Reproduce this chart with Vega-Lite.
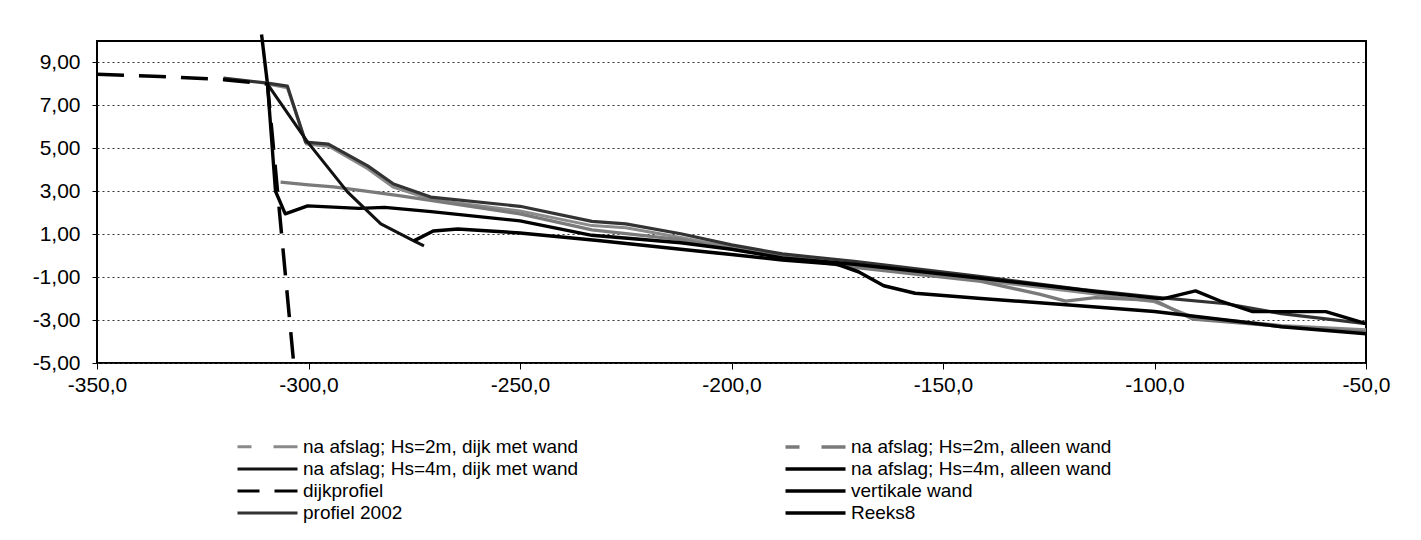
{
  "$schema": "https://vega.github.io/schema/vega-lite/v6.json",
  "width": 1269,
  "height": 322,
  "autosize": {"type": "none"},
  "padding": {"left": 97, "top": 41, "right": 55, "bottom": 177},
  "background": "white",
  "config": {
    "font": "Liberation Sans",
    "view": {"stroke": "black", "strokeWidth": 2}
  },
  "data": {
    "values": [
      {"s": "dijkprofiel", "x": -350, "y": 8.45},
      {"s": "dijkprofiel", "x": -335, "y": 8.35},
      {"s": "dijkprofiel", "x": -320, "y": 8.2},
      {"s": "dijkprofiel", "x": -309.7, "y": 8.0},
      {"s": "dijkprofiel", "x": -303.6, "y": -4.8},
      {"s": "vertikale wand", "x": -311.1, "y": 10.3},
      {"s": "vertikale wand", "x": -309.7, "y": 8.0},
      {"s": "na afslag; Hs=2m, dijk met wand", "x": -309.7, "y": 8.0},
      {"s": "na afslag; Hs=2m, dijk met wand", "x": -305, "y": 7.82},
      {"s": "na afslag; Hs=2m, dijk met wand", "x": -300.5, "y": 5.2},
      {"s": "na afslag; Hs=2m, dijk met wand", "x": -295, "y": 5.08},
      {"s": "na afslag; Hs=2m, dijk met wand", "x": -286, "y": 4.05},
      {"s": "na afslag; Hs=2m, dijk met wand", "x": -280, "y": 3.2},
      {"s": "na afslag; Hs=2m, dijk met wand", "x": -271, "y": 2.62},
      {"s": "na afslag; Hs=2m, dijk met wand", "x": -250, "y": 2.08},
      {"s": "na afslag; Hs=2m, dijk met wand", "x": -233, "y": 1.4},
      {"s": "na afslag; Hs=2m, dijk met wand", "x": -225, "y": 1.3},
      {"s": "na afslag; Hs=2m, dijk met wand", "x": -212, "y": 0.85},
      {"s": "na afslag; Hs=2m, dijk met wand", "x": -200, "y": 0.38},
      {"s": "na afslag; Hs=2m, dijk met wand", "x": -188, "y": 0.0},
      {"s": "na afslag; Hs=2m, dijk met wand", "x": -171, "y": -0.45},
      {"s": "na afslag; Hs=2m, dijk met wand", "x": -141, "y": -1.15},
      {"s": "na afslag; Hs=2m, dijk met wand", "x": -117, "y": -1.72},
      {"s": "na afslag; Hs=2m, dijk met wand", "x": -100, "y": -2.15},
      {"s": "na afslag; Hs=2m, dijk met wand", "x": -91, "y": -2.85},
      {"s": "na afslag; Hs=2m, dijk met wand", "x": -70, "y": -3.25},
      {"s": "na afslag; Hs=2m, dijk met wand", "x": -50, "y": -3.45},
      {"s": "na afslag; Hs=2m, alleen wand", "x": -306.6, "y": 3.43},
      {"s": "na afslag; Hs=2m, alleen wand", "x": -300, "y": 3.3},
      {"s": "na afslag; Hs=2m, alleen wand", "x": -294.1, "y": 3.2},
      {"s": "na afslag; Hs=2m, alleen wand", "x": -286, "y": 3.0},
      {"s": "na afslag; Hs=2m, alleen wand", "x": -278.2, "y": 2.78},
      {"s": "na afslag; Hs=2m, alleen wand", "x": -250, "y": 1.95},
      {"s": "na afslag; Hs=2m, alleen wand", "x": -233, "y": 1.2},
      {"s": "na afslag; Hs=2m, alleen wand", "x": -212, "y": 0.75},
      {"s": "na afslag; Hs=2m, alleen wand", "x": -200, "y": 0.3},
      {"s": "na afslag; Hs=2m, alleen wand", "x": -188, "y": -0.05},
      {"s": "na afslag; Hs=2m, alleen wand", "x": -171, "y": -0.55},
      {"s": "na afslag; Hs=2m, alleen wand", "x": -141, "y": -1.2},
      {"s": "na afslag; Hs=2m, alleen wand", "x": -127, "y": -1.8},
      {"s": "na afslag; Hs=2m, alleen wand", "x": -121, "y": -2.12},
      {"s": "na afslag; Hs=2m, alleen wand", "x": -114, "y": -1.95},
      {"s": "na afslag; Hs=2m, alleen wand", "x": -100, "y": -2.08},
      {"s": "na afslag; Hs=2m, alleen wand", "x": -91, "y": -2.95},
      {"s": "na afslag; Hs=2m, alleen wand", "x": -70, "y": -3.3},
      {"s": "na afslag; Hs=2m, alleen wand", "x": -50, "y": -3.55},
      {"s": "profiel 2002", "x": -320.1, "y": 8.27},
      {"s": "profiel 2002", "x": -309.7, "y": 8.04},
      {"s": "profiel 2002", "x": -305, "y": 7.9},
      {"s": "profiel 2002", "x": -300.7, "y": 5.29},
      {"s": "profiel 2002", "x": -295.3, "y": 5.2},
      {"s": "profiel 2002", "x": -286, "y": 4.18},
      {"s": "profiel 2002", "x": -279.9, "y": 3.34},
      {"s": "profiel 2002", "x": -271.1, "y": 2.73},
      {"s": "profiel 2002", "x": -250, "y": 2.3},
      {"s": "profiel 2002", "x": -233, "y": 1.6},
      {"s": "profiel 2002", "x": -225, "y": 1.48},
      {"s": "profiel 2002", "x": -212, "y": 1.02},
      {"s": "profiel 2002", "x": -200, "y": 0.5},
      {"s": "profiel 2002", "x": -188, "y": 0.08},
      {"s": "profiel 2002", "x": -171, "y": -0.27},
      {"s": "profiel 2002", "x": -141, "y": -0.98},
      {"s": "profiel 2002", "x": -117, "y": -1.58},
      {"s": "profiel 2002", "x": -100, "y": -1.93},
      {"s": "profiel 2002", "x": -83, "y": -2.24},
      {"s": "profiel 2002", "x": -70, "y": -2.7},
      {"s": "profiel 2002", "x": -50, "y": -3.17},
      {"s": "na afslag; Hs=4m, alleen wand", "x": -309.7, "y": 7.99},
      {"s": "na afslag; Hs=4m, alleen wand", "x": -307.8, "y": 3.0},
      {"s": "na afslag; Hs=4m, alleen wand", "x": -305.5, "y": 1.95},
      {"s": "na afslag; Hs=4m, alleen wand", "x": -300.2, "y": 2.32},
      {"s": "na afslag; Hs=4m, alleen wand", "x": -288, "y": 2.2},
      {"s": "na afslag; Hs=4m, alleen wand", "x": -282, "y": 2.25},
      {"s": "na afslag; Hs=4m, alleen wand", "x": -271, "y": 2.05},
      {"s": "na afslag; Hs=4m, alleen wand", "x": -250, "y": 1.62},
      {"s": "na afslag; Hs=4m, alleen wand", "x": -233, "y": 0.95},
      {"s": "na afslag; Hs=4m, alleen wand", "x": -212, "y": 0.6},
      {"s": "na afslag; Hs=4m, alleen wand", "x": -200, "y": 0.3},
      {"s": "na afslag; Hs=4m, alleen wand", "x": -188, "y": -0.1},
      {"s": "na afslag; Hs=4m, alleen wand", "x": -171, "y": -0.4},
      {"s": "na afslag; Hs=4m, alleen wand", "x": -141, "y": -1.05},
      {"s": "na afslag; Hs=4m, alleen wand", "x": -117, "y": -1.6},
      {"s": "na afslag; Hs=4m, alleen wand", "x": -113.9, "y": -1.68},
      {"s": "na afslag; Hs=4m, alleen wand", "x": -98.1, "y": -2.01},
      {"s": "na afslag; Hs=4m, alleen wand", "x": -90.3, "y": -1.64},
      {"s": "na afslag; Hs=4m, alleen wand", "x": -84.6, "y": -2.1},
      {"s": "na afslag; Hs=4m, alleen wand", "x": -76.8, "y": -2.61},
      {"s": "na afslag; Hs=4m, alleen wand", "x": -59.5, "y": -2.61},
      {"s": "na afslag; Hs=4m, alleen wand", "x": -50, "y": -3.17},
      {"s": "na afslag; Hs=4m, dijk met wand", "x": -309.7, "y": 7.99},
      {"s": "na afslag; Hs=4m, dijk met wand", "x": -300.2, "y": 5.29},
      {"s": "na afslag; Hs=4m, dijk met wand", "x": -290.8, "y": 2.97},
      {"s": "na afslag; Hs=4m, dijk met wand", "x": -282.9, "y": 1.48},
      {"s": "na afslag; Hs=4m, dijk met wand", "x": -275.1, "y": 0.69},
      {"s": "na afslag; Hs=4m, dijk met wand", "x": -272.7, "y": 0.46},
      {"s": "Reeks8", "x": -275.1, "y": 0.69},
      {"s": "Reeks8", "x": -270.5, "y": 1.15},
      {"s": "Reeks8", "x": -264.7, "y": 1.24},
      {"s": "Reeks8", "x": -250, "y": 1.06},
      {"s": "Reeks8", "x": -231, "y": 0.69},
      {"s": "Reeks8", "x": -212, "y": 0.3},
      {"s": "Reeks8", "x": -200, "y": 0.05},
      {"s": "Reeks8", "x": -188, "y": -0.2},
      {"s": "Reeks8", "x": -175, "y": -0.4},
      {"s": "Reeks8", "x": -170, "y": -0.75},
      {"s": "Reeks8", "x": -164, "y": -1.4},
      {"s": "Reeks8", "x": -156.6, "y": -1.75},
      {"s": "Reeks8", "x": -141, "y": -2.0},
      {"s": "Reeks8", "x": -117, "y": -2.34},
      {"s": "Reeks8", "x": -100, "y": -2.6},
      {"s": "Reeks8", "x": -70, "y": -3.31},
      {"s": "Reeks8", "x": -50, "y": -3.64}
    ]
  },
  "encoding": {
    "x": {
      "field": "x", "type": "quantitative",
      "scale": {"domain": [-350, -50], "nice": false, "zero": false},
      "axis": {
        "values": [-350, -300, -250, -200, -150, -100, -50],
        "labelExpr": "replace(replace(format(datum.value, '.1f'), '.', ','), '−', '-')",
        "title": null, "grid": false, "domain": false,
        "tickColor": "black", "tickSize": 6, "tickWidth": 1,
        "labelFlush": false, "labelOverlap": false,
        "labelFontSize": 21, "labelPadding": 5, "labelColor": "black", "labelFont": "Liberation Sans"
      }
    },
    "y": {
      "field": "y", "type": "quantitative",
      "scale": {"domain": [-5, 10], "nice": false, "zero": false},
      "axis": {
        "values": [-5, -3, -1, 1, 3, 5, 7, 9],
        "labelExpr": "replace(replace(format(datum.value, '.2f'), '.', ','), '−', '-')",
        "title": null, "grid": true, "gridColor": "#333", "gridDash": [2, 3], "gridWidth": 1,
        "domain": false, "tickColor": "black", "tickSize": 5, "tickWidth": 1,
        "labelOverlap": false,
        "labelFontSize": 21, "labelPadding": 12, "labelColor": "black", "labelFont": "Liberation Sans"
      }
    }
  },
  "layer": [
    {
      "transform": [{"filter": "datum.s !== 'dijkprofiel'"}],
      "mark": {"type": "line", "strokeCap": "butt", "strokeJoin": "round"},
      "encoding": {
        "color": {
          "field": "s", "type": "nominal",
          "scale": {
            "domain": ["na afslag; Hs=2m, dijk met wand", "na afslag; Hs=4m, dijk met wand", "dijkprofiel", "profiel 2002", "na afslag; Hs=2m, alleen wand", "na afslag; Hs=4m, alleen wand", "vertikale wand", "Reeks8"],
            "range": ["#8a8a8a", "#111111", "#000000", "#333333", "#7a7a7a", "#000000", "#000000", "#000000"]
          },
          "legend": {
            "title": null, "orient": "none", "legendX": 158.5, "legendY": 394,
            "columns": 2, "columnPadding": 200, "rowPadding": -1,
            "symbolType": "M-3,0H3", "symbolSize": 400, "symbolStrokeWidth": 2.5,
            "labelFontSize": 19, "labelFont": "Liberation Sans", "labelColor": "black", "labelOffset": 23.5,
            "labelLimit": 400
          }
        },
        "strokeWidth": {
          "field": "s", "type": "nominal",
          "scale": {
            "domain": ["na afslag; Hs=2m, dijk met wand", "na afslag; Hs=4m, dijk met wand", "dijkprofiel", "profiel 2002", "na afslag; Hs=2m, alleen wand", "na afslag; Hs=4m, alleen wand", "vertikale wand", "Reeks8"],
            "range": [3, 3.5, 3.5, 2.2, 3, 3.5, 3.5, 3.5]
          },
          "legend": null
        }
      }
    },
    {
      "transform": [{"filter": "datum.s === 'dijkprofiel'"}],
      "mark": {"type": "line", "strokeCap": "butt", "strokeDash": [27, 15], "strokeWidth": 3.5, "color": "#000000"},
      "encoding": {}
    },
    {
      "transform": [{"filter": "false"}],
      "mark": {"type": "line"},
      "encoding": {
        "color": {
          "field": "s", "type": "nominal",
          "scale": {
            "domain": ["na afslag; Hs=2m, dijk met wand", "na afslag; Hs=4m, dijk met wand", "dijkprofiel", "profiel 2002", "na afslag; Hs=2m, alleen wand", "na afslag; Hs=4m, alleen wand", "vertikale wand", "Reeks8"],
            "range": ["#8a8a8a", "#111111", "#000000", "#333333", "#7a7a7a", "#000000", "#000000", "#000000"]
          }
        },
        "strokeDash": {
          "field": "s", "type": "nominal",
          "scale": {
            "domain": ["na afslag; Hs=2m, dijk met wand", "na afslag; Hs=4m, dijk met wand", "dijkprofiel", "profiel 2002", "na afslag; Hs=2m, alleen wand", "na afslag; Hs=4m, alleen wand", "vertikale wand", "Reeks8"],
            "range": [[14, 22, 24, 100], [1, 0], [22, 15, 23, 100], [1, 0], [14, 22, 24, 100], [1, 0], [1, 0], [1, 0]]
          }
        }
      }
    }
  ]
}
